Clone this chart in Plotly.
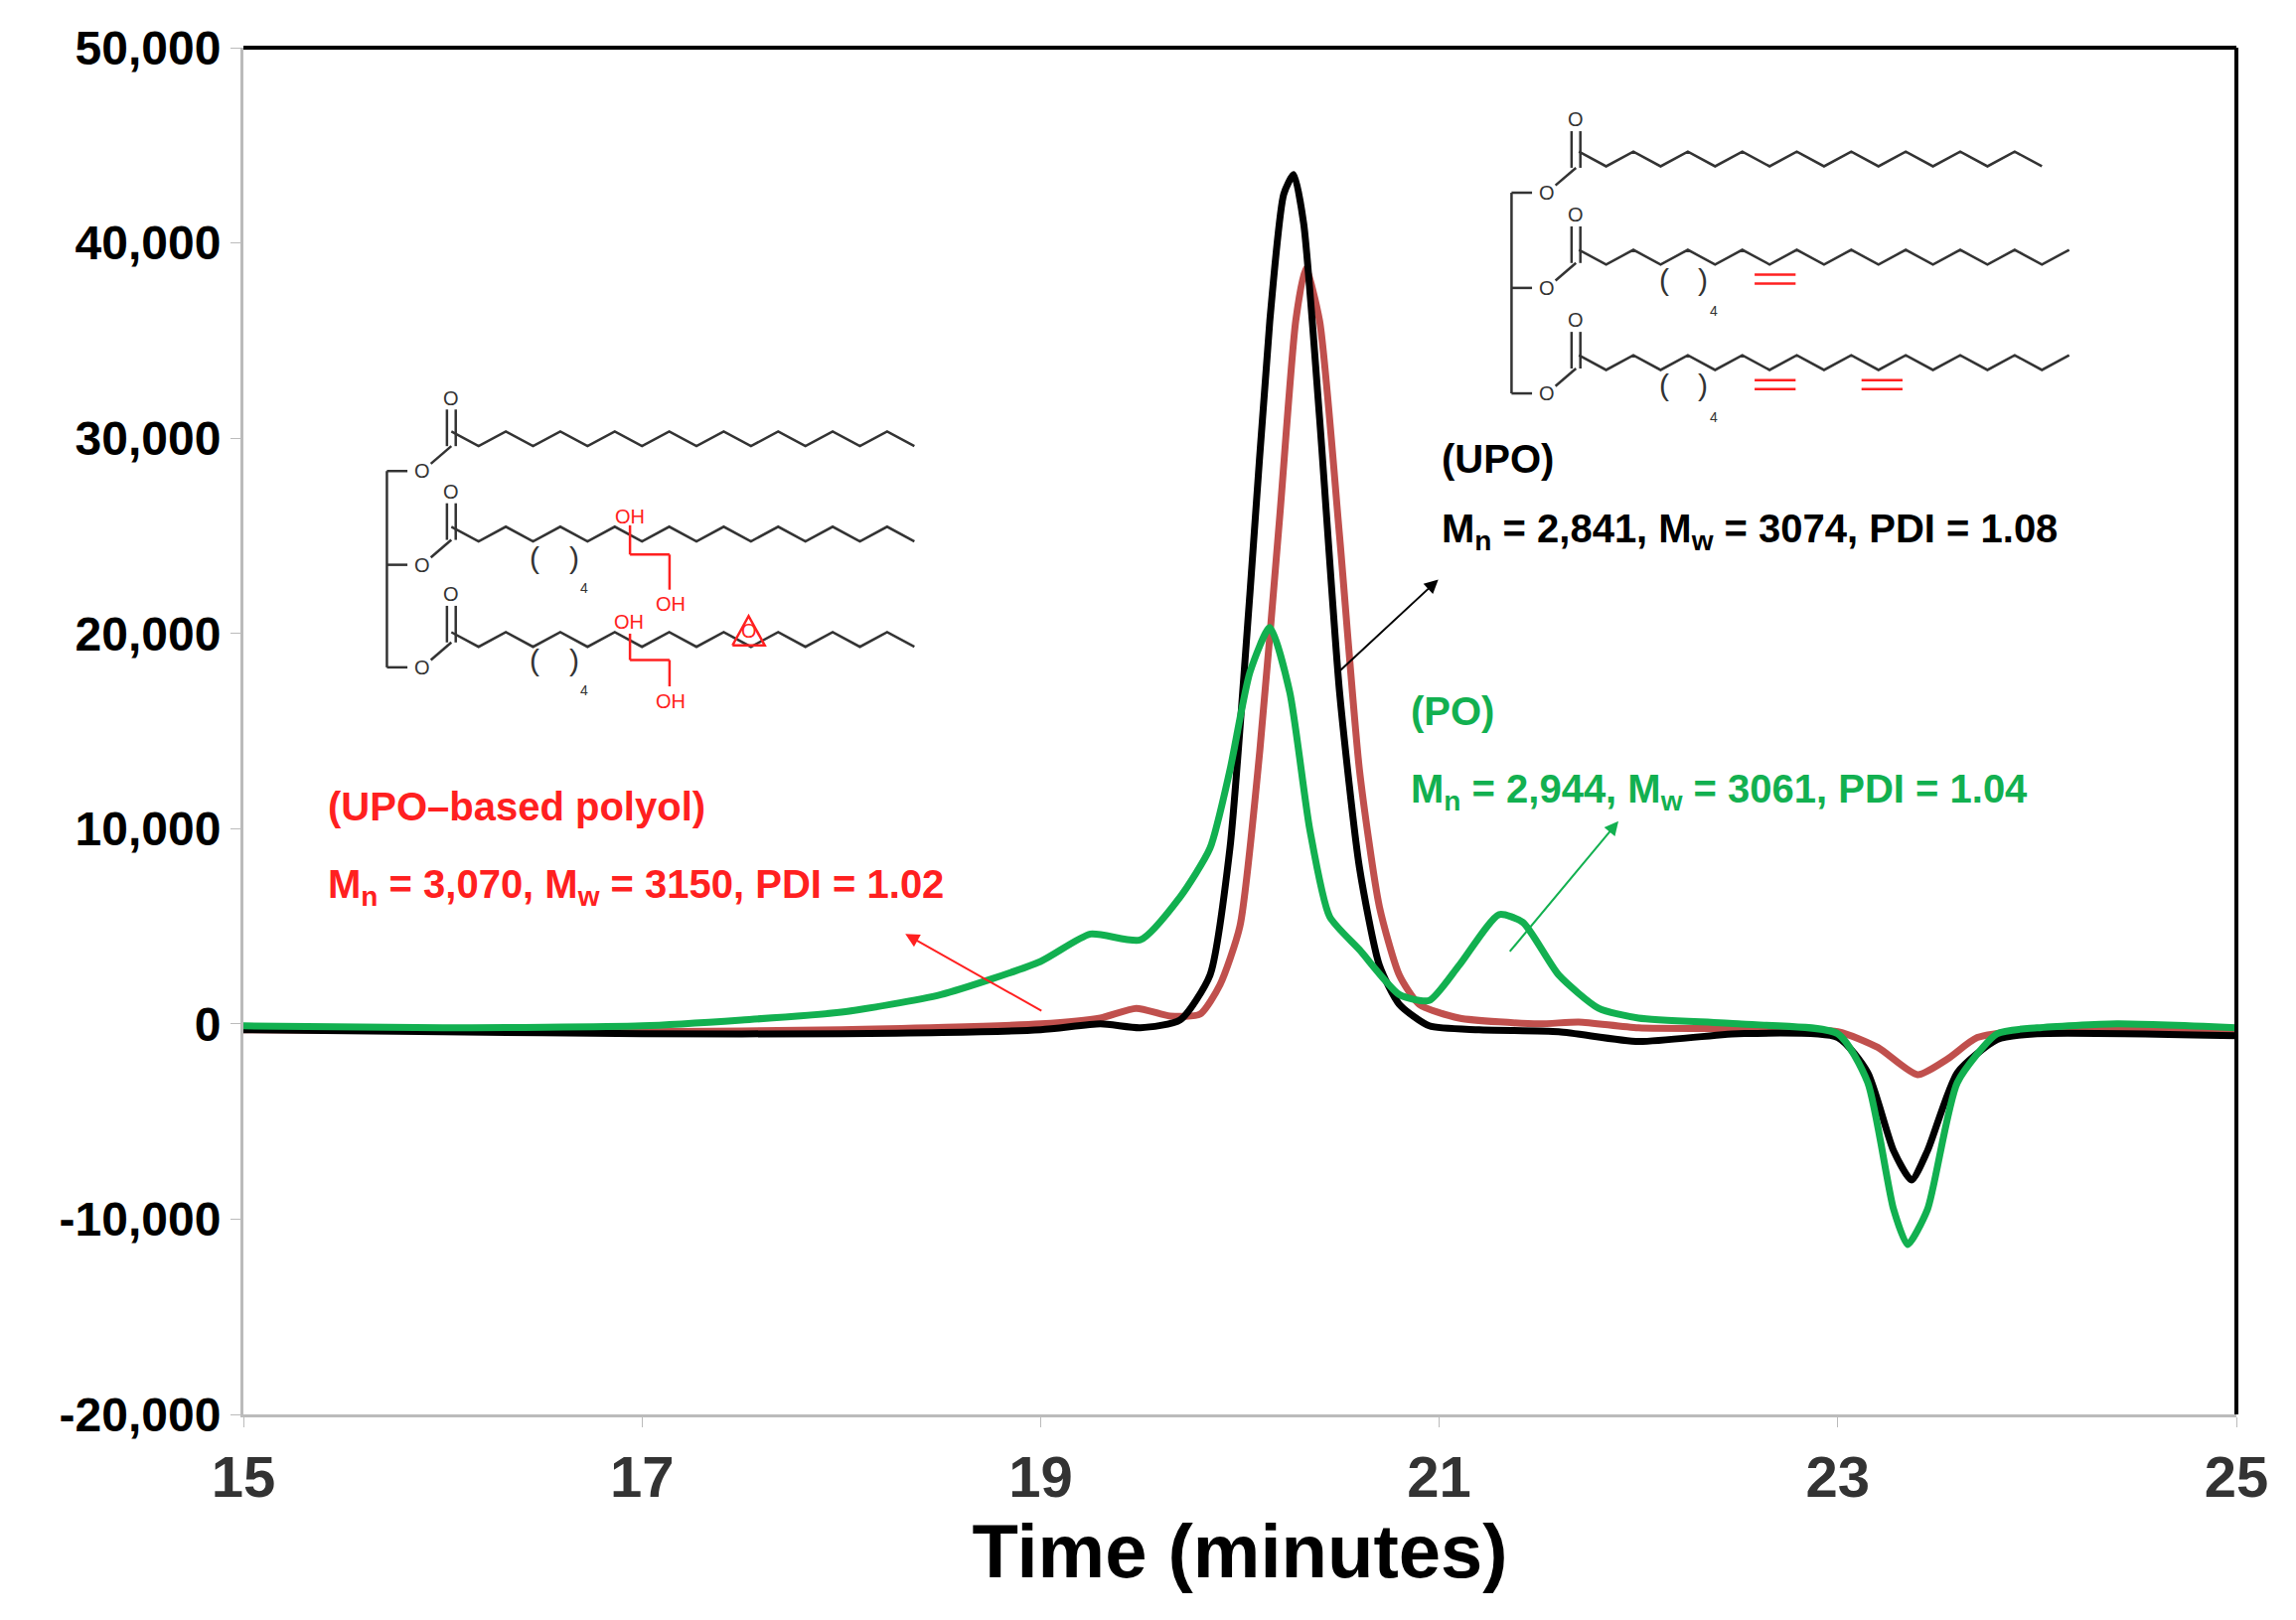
import plotly.graph_objects as go

# GPC traces (time in minutes, detector response)
upo_t = [15, 16, 17, 18, 19, 19.3, 19.5, 19.7, 19.85, 19.95, 20.05, 20.15, 20.22, 20.27, 20.32, 20.4, 20.5,
         20.6, 20.7, 20.8, 20.95, 21.2, 21.6, 22.0, 22.5, 23.0, 23.15, 23.28, 23.37, 23.45, 23.6, 23.8, 24.0, 25]
upo_y = [-300, -400, -500, -500, -300, 0, -200, 200, 2500, 9000, 22000, 36000, 42500, 43500, 41000, 31000, 17000,
         8000, 3000, 1000, -100, -300, -400, -900, -500, -700, -2500, -6500, -8000, -6500, -2500, -800, -500, -600]

pol_t = [15, 16, 17, 18, 19, 19.3, 19.48, 19.65, 19.8, 19.9, 20.0, 20.1, 20.2, 20.28, 20.33, 20.4, 20.5,
         20.6, 20.7, 20.8, 20.9, 21.1, 21.5, 21.7, 22.0, 23.0, 23.2, 23.4, 23.55, 23.7, 24.0, 25]
pol_y = [-300, -350, -400, -300, 0, 300, 800, 400, 500, 2000, 5000, 14000, 26000, 36000, 38700, 36000, 25000,
         13000, 6000, 2500, 1000, 300, 0, 100, -200, -400, -1200, -2600, -1800, -700, -300, -300]

po_t = [15, 16, 17, 17.5, 18, 18.5, 19.0, 19.25, 19.5, 19.7, 19.85, 19.95, 20.05, 20.15, 20.25, 20.35,
        20.45, 20.6, 20.8, 20.95, 21.1, 21.3, 21.42, 21.6, 21.8, 22.0, 22.5, 23.0, 23.15, 23.28, 23.35,
        23.45, 23.6, 23.8, 24.0, 24.4, 25]
po_y = [-100, -200, -100, 200, 600, 1500, 3200, 4600, 4300, 6500, 9000, 13000, 18000, 20300, 17000, 10000,
        5500, 3800, 1500, 1200, 3000, 5600, 5200, 2500, 800, 300, 0, -500, -3000, -9500, -11300,
        -9500, -3000, -500, -200, 0, -200]

x_ticks = [15, 17, 19, 21, 23, 25]
y_ticks = [-20000, -10000, 0, 10000, 20000, 30000, 40000, 50000]
y_labels = ["-20,000", "-10,000", "0", "10,000", "20,000", "30,000", "40,000", "50,000"]

GREEN = "#12b050"
RED = "#ff2020"
BROWN = "#c0504d"
FONT = "Liberation Sans Narrow, Arial Narrow, Liberation Sans, Arial"

fig = go.Figure()
for t, y, c in [(pol_t, pol_y, BROWN), (upo_t, upo_y, "black"), (po_t, po_y, GREEN)]:
    fig.add_trace(go.Scatter(x=t, y=y, mode="lines", line=dict(color=c, width=7, shape="spline", smoothing=0.6),
                             showlegend=False))


# helpers for the drawn structures: reference-picture pixels -> data
def px(x):
    return 15 + (x - 166) / 136.1


def py(y):
    return 50000 - (y - 32) * 75.03


def path(pts):
    return "M " + " L ".join(f"{px(a)},{py(b)}" for a, b in pts)


def line(pts, color="#333", w=2.5):
    fig.add_shape(type="path", path=path(pts), line=dict(color=color, width=w), xref="x", yref="y")


def zig(x0, y0, x1, step=18.6, amp=10, first_up=False):
    pts, x, up = [], x0, first_up
    while x <= x1:
        pts.append((x, y0 - amp if up else y0))
        up = not up
        x += step
    return pts


def label(x, y, s, color="#333", size=20):
    fig.add_annotation(x=px(x), y=py(y), text=s, showarrow=False, font=dict(family="Liberation Sans", size=size, color=color))


def triglyceride(bx, rows, ox_dx=24, carb_dx=44):
    line([(bx, rows[0]), (bx, rows[-1])])
    for r in rows:
        line([(bx, r), (bx + 14, r)])
        label(bx + ox_dx, r, "O")
        cx = bx + carb_dx
        line([(bx + ox_dx + 6, r - 5), (cx, r - 17)])
        line([(cx - 3, r - 17), (cx - 3, r - 42)])
        line([(cx + 3, r - 17), (cx + 3, r - 42)])
        label(cx, r - 50, "O")


# left structure (polyol)
triglyceride(264, [321, 385, 455])
line(zig(308, 304, 630, first_up=True))
line(zig(308, 369, 636, first_up=True))
line(zig(308, 441, 640, first_up=True))
line([(430, 378), (430, 358)], RED)
line([(457, 378), (457, 402)], RED)
line([(430, 378), (457, 378)], RED)
label(430, 352, "OH", RED)
label(458, 412, "OH", RED)
line([(430, 450), (430, 432)], RED)
line([(457, 450), (457, 468)], RED)
line([(430, 450), (457, 450)], RED)
label(429, 424, "OH", RED)
label(458, 478, "OH", RED)
line([(500, 440), (522, 440), (511, 420), (500, 440)], RED)
label(511, 430, "O", RED)
for yy in (380, 450):
    label(365, yy, "(", size=30)
    label(392, yy, ")", size=30)
    label(399, yy + 21, "4", size=14)

# right structure (UPO)
triglyceride(1032, [131, 196, 268])
line(zig(1078, 113, 1410, first_up=True))
line(zig(1078, 180, 1414, first_up=True))
line(zig(1078, 252, 1418, first_up=True))
for x0, yy in [(1198, 190), (1198, 262), (1271, 262)]:
    line([(x0, yy - 3), (x0 + 28, yy - 3)], RED)
    line([(x0, yy + 3), (x0 + 28, yy + 3)], RED)
for yy in (190, 262):
    label(1136, yy, "(", size=30)
    label(1163, yy, ")", size=30)
    label(1170, yy + 22, "4", size=14)

# labels
anno = [
    (983, 313, "(UPO)", "black"),
    (983, 362, "M<sub>n</sub> = 2,841, M<sub>w</sub> = 3074, PDI = 1.08", "black"),
    (962, 485, "(PO)", GREEN),
    (962, 540, "M<sub>n</sub> = 2,944, M<sub>w</sub> = 3061, PDI = 1.04", GREEN),
    (222, 550, "(UPO–based polyol)", RED),
    (222, 605, "M<sub>n</sub> = 3,070, M<sub>w</sub> = 3150, PDI = 1.02", RED),
]
for x, y, s, c in anno:
    fig.add_annotation(x=px(x), y=py(y), text=f"<b>{s}</b>", showarrow=False, xanchor="left",
                       font=dict(family=FONT, size=40, color=c))

for (x0, y0, x1, y1, c) in [(912, 460, 982, 395, "black"), (712, 690, 618, 637, RED), (1030, 650, 1105, 560, GREEN)]:
    fig.add_annotation(x=px(x1), y=py(y1), ax=px(x0), ay=py(y0), axref="x", ayref="y", xref="x", yref="y",
                       text="", showarrow=True, arrowhead=2, arrowsize=1.4, arrowwidth=2, arrowcolor=c)

fig.update_xaxes(range=[15, 25], tickvals=x_ticks, ticks="outside", ticklen=10, tickcolor="#bbb",
                 showline=True, linecolor="#bbb", linewidth=3, showgrid=False, zeroline=False,
                 tickfont=dict(family=FONT, size=58, color="#333", weight="bold"),
                 title=dict(text="<b>Time (minutes)</b>", font=dict(family=FONT, size=76, color="black"), standoff=10))
fig.update_yaxes(range=[-20000, 50000], tickvals=y_ticks, ticktext=y_labels, ticks="outside", ticklen=10,
                 tickcolor="#bbb", showline=True, linecolor="#bbb", linewidth=3, showgrid=False, zeroline=False,
                 tickfont=dict(family=FONT, size=48, color="black", weight="bold"))
# black top/right frame
fig.add_shape(type="line", xref="paper", yref="paper", x0=0, x1=1, y0=1, y1=1, line=dict(color="black", width=4))
fig.add_shape(type="line", xref="paper", yref="paper", x0=1, x1=1, y0=0, y1=1, line=dict(color="black", width=4))

fig.update_layout(width=2311, height=1631, plot_bgcolor="white", paper_bgcolor="white",
                  margin=dict(l=237, r=68, t=40, b=215))
fig.write_html("out.html")
